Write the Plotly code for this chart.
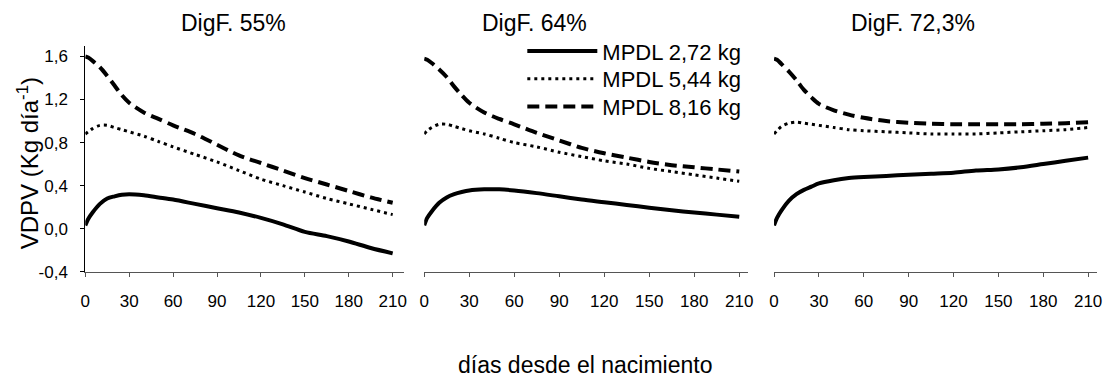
import plotly.graph_objects as go

# Days since birth at which the curves are sampled
days = [0, 2, 5, 10, 15, 20, 25, 30, 40, 50, 60, 75, 90, 105, 120, 135, 150, 165, 180, 195, 210]

panel_titles = ["DigF. 55%", "DigF. 64%", "DigF. 72,3%"]
series_names = ["MPDL 2,72 kg", "MPDL 5,44 kg", "MPDL 8,16 kg"]

# VDPV (kg/day) for each forage digestibility level
dig55_mpdl272 = [0.03, 0.09, 0.15, 0.23, 0.28, 0.30, 0.315, 0.32, 0.31, 0.29, 0.27, 0.23, 0.19, 0.15, 0.10, 0.04, -0.03, -0.07, -0.12, -0.18, -0.23]
dig55_mpdl544 = [0.88, 0.90, 0.93, 0.96, 0.96, 0.94, 0.92, 0.90, 0.86, 0.81, 0.76, 0.69, 0.62, 0.54, 0.46, 0.40, 0.34, 0.28, 0.23, 0.18, 0.13]
dig55_mpdl816 = [1.60, 1.59, 1.56, 1.50, 1.42, 1.33, 1.24, 1.17, 1.08, 1.02, 0.96, 0.88, 0.78, 0.68, 0.61, 0.54, 0.47, 0.41, 0.35, 0.29, 0.24]

dig64_mpdl272 = [0.03, 0.10, 0.16, 0.24, 0.29, 0.32, 0.34, 0.355, 0.365, 0.365, 0.355, 0.33, 0.30, 0.27, 0.245, 0.22, 0.195, 0.17, 0.15, 0.13, 0.11]
dig64_mpdl544 = [0.88, 0.91, 0.94, 0.97, 0.97, 0.95, 0.93, 0.91, 0.88, 0.84, 0.80, 0.76, 0.71, 0.67, 0.63, 0.60, 0.56, 0.53, 0.50, 0.47, 0.44]
dig64_mpdl816 = [1.58, 1.57, 1.54, 1.48, 1.41, 1.32, 1.24, 1.17, 1.08, 1.02, 0.97, 0.89, 0.82, 0.75, 0.70, 0.66, 0.62, 0.59, 0.57, 0.55, 0.53]

dig72_mpdl272 = [0.03, 0.10, 0.17, 0.26, 0.32, 0.36, 0.39, 0.42, 0.45, 0.47, 0.48, 0.49, 0.50, 0.51, 0.52, 0.54, 0.55, 0.57, 0.60, 0.63, 0.66]
dig72_mpdl544 = [0.88, 0.91, 0.95, 0.98, 0.99, 0.98, 0.97, 0.96, 0.94, 0.92, 0.91, 0.90, 0.89, 0.88, 0.88, 0.88, 0.89, 0.90, 0.91, 0.92, 0.94]
dig72_mpdl816 = [1.58, 1.57, 1.53, 1.46, 1.38, 1.29, 1.22, 1.16, 1.10, 1.06, 1.03, 1.00, 0.985, 0.975, 0.97, 0.97, 0.97, 0.97, 0.975, 0.98, 0.99]

panels = [
    [dig55_mpdl272, dig55_mpdl544, dig55_mpdl816],
    [dig64_mpdl272, dig64_mpdl544, dig64_mpdl816],
    [dig72_mpdl272, dig72_mpdl544, dig72_mpdl816],
]

x_ticks = [0, 30, 60, 90, 120, 150, 180, 210]
y_ticks = [-0.4, 0.0, 0.4, 0.8, 1.2, 1.6]
y_tick_labels = ["-0,4", "0,0", "0,4", "0,8", "1,2", "1,6"]

W, H = 1113, 379
FONT = "Arial, Liberation Sans, sans-serif"

line_styles = [
    dict(color="black", width=4, dash="solid"),
    dict(color="black", width=3, dash="3px,4px"),
    dict(color="black", width=4, dash="12px,6px"),
]

# horizontal pixel extents of the three panels
panel_px = [(81, 403), (423, 750), (776, 1102)]
plot_top, plot_bottom = 47, 279

# one single-entry legend per series, stacked at a fixed row pitch
legend_ids = ["legend", "legend2", "legend3"]
legend_top, legend_pitch = 31, 28.5

fig = go.Figure()

for p, series in enumerate(panels):
    ax = "" if p == 0 else str(p + 1)
    for s, values in enumerate(series):
        fig.add_trace(go.Scatter(
            x=days, y=values, mode="lines",
            name=series_names[s],
            line=dict(shape="spline", smoothing=0.8, **line_styles[s]),
            showlegend=(p == 0),
            legend=legend_ids[s],
            xaxis="x" + ax, yaxis="y" + ax,
        ))

layout_axes = {}
for p in range(3):
    ax = "" if p == 0 else str(p + 1)
    x0, x1 = panel_px[p]
    layout_axes["xaxis" + ax] = dict(
        domain=[x0 / W, x1 / W], range=[0, 216] if p else [0, 218],
        tickvals=x_ticks, ticks="outside", ticklen=4, tickcolor="#555",
        ticklabelstandoff=10,
        showline=True, linecolor="#555", linewidth=1,
        showgrid=False, zeroline=False,
        tickfont=dict(family=FONT, size=17, color="black"),
        anchor="y" + ax, fixedrange=True,
    )
    layout_axes["yaxis" + ax] = dict(
        domain=[(H - plot_bottom) / H, (H - plot_top) / H], range=[-0.4, 1.7],
        tickvals=y_ticks, ticktext=y_tick_labels,
        ticks="outside" if p == 0 else "", ticklen=4, tickcolor="black",
        ticklabelstandoff=9,
        showline=(p == 0), linecolor="black", linewidth=1,
        showticklabels=(p == 0),
        showgrid=False, zeroline=False,
        tickfont=dict(family=FONT, size=17, color="black"),
        anchor="x" + ax, fixedrange=True,
    )

annotations = []
for title, cx in zip(panel_titles, [231, 534, 916]):
    annotations.append(dict(
        text=title, x=cx / W, y=(H - 24) / H, xref="paper", yref="paper",
        xanchor="center", yanchor="middle", showarrow=False,
        font=dict(family=FONT, size=23, color="black"),
    ))
annotations.append(dict(
    text="VDPV (Kg día<sup>-1</sup>)", x=23 / W, y=(H - 168) / H,
    xref="paper", yref="paper", xanchor="center", yanchor="middle",
    textangle=-90, showarrow=False,
    font=dict(family=FONT, size=24, color="black"),
))
annotations.append(dict(
    text="días desde el nacimiento", x=585 / W, y=(H - 375) / H,
    xref="paper", yref="paper", xanchor="center", yanchor="middle",
    showarrow=False, font=dict(family=FONT, size=23, color="black"),
))

legends = {}
for i, lid in enumerate(legend_ids):
    legends[lid] = dict(
        x=522 / W, y=(H - (legend_top + i * legend_pitch)) / H,
        xanchor="left", yanchor="top",
        bgcolor="rgba(0,0,0,0)", borderwidth=0,
        font=dict(family=FONT, size=22, color="black"),
        itemwidth=70,
    )

fig.update_layout(
    width=W, height=H, autosize=False,
    margin=dict(l=0, r=0, t=0, b=0),
    paper_bgcolor="white", plot_bgcolor="white",
    showlegend=True,
    annotations=annotations,
    **legends,
    **layout_axes,
)

fig.write_html("out.html")
